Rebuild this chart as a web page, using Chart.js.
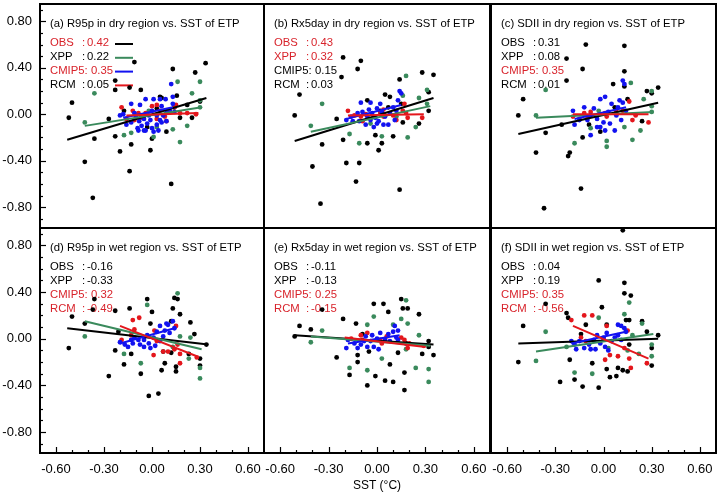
<!DOCTYPE html>
<html>
<head>
<meta charset="utf-8">
<script src="https://cdn.jsdelivr.net/npm/chart.js@4.4.0/dist/chart.umd.min.js"></script>
<style>
  body { margin: 0; background: #fff; }
  #wrap { position: relative; width: 720px; height: 495px; }
  #wrap canvas { position: absolute; left: 0; top: 0; }
</style>
</head>
<body>
<div id="wrap">
  <canvas id="pa"></canvas><canvas id="pb"></canvas><canvas id="pc"></canvas>
  <canvas id="pd"></canvas><canvas id="pe"></canvas><canvas id="pf"></canvas>
</div>
<script>
const seriesNames = ['OBS', 'XPP', 'CMIP5', 'RCM'];
const xTicks = [-0.6, -0.3, 0, 0.3, 0.6];
const yTicks = [-0.8, -0.4, 0, 0.4, 0.8];

const titles = [
  '(a) R95p in dry region vs. SST of ETP',
  '(b) Rx5day in dry region vs. SST of ETP',
  '(c) SDII in dry region vs. SST of ETP',
  '(d) R95p in wet region vs. SST of ETP',
  '(e) Rx5day in wet region vs. SST of ETP',
  '(f) SDII in wet region vs. SST of ETP'
];
// correlation coefficients (OBS, XPP, CMIP5, RCM) and whether each is significant (red)
const corrVals = [
  [0.42, 0.22, 0.35, 0.05],
  [0.43, 0.32, 0.15, 0.03],
  [0.31, 0.08, 0.35, 0.01],
  [-0.16, -0.33, 0.32, -0.49],
  [-0.11, -0.13, 0.25, -0.15],
  [0.04, 0.19, 0.35, -0.56]
];
const corrSig = [
  [1, 0, 1, 0],
  [1, 1, 0, 0],
  [0, 0, 1, 0],
  [0, 0, 1, 1],
  [0, 0, 1, 1],
  [0, 0, 1, 1]
];

// scatter points [sst, index anomaly]
const obsA = [[-0.52,-0.03],[-0.50,0.10],[-0.42,-0.41],[-0.37,-0.72],[-0.36,-0.21],[-0.27,-0.04],[-0.23,0.29],[-0.23,0.21],[-0.23,-0.19],[-0.20,-0.32],[-0.175,0.03],[-0.14,-0.49],[-0.14,0.23],[-0.13,-0.26],[-0.11,0.45],[-0.07,0.21],[-0.01,-0.31],[0.00,-0.21],[0.05,0.15],[0.06,0.14],[0.09,-0.15],[0.12,-0.60],[0.13,0.39],[0.14,0.06],[0.175,-0.03],[0.22,0.08],[0.25,-0.03],[0.27,0.36],[0.30,0.11],[0.335,0.44],[0.03,0.05],[-0.03,-0.11],[0.155,0.16]];
const xppA = [[-0.42,-0.07],[-0.36,0.18],[-0.175,-0.18],[-0.13,-0.16],[-0.02,0.03],[0.01,-0.195],[0.13,-0.13],[0.16,0.28],[0.175,-0.24],[0.22,-0.10],[0.25,0.18],[0.30,0.28],[0.30,0.12],[0.30,0.06],[0.11,0.03],[0.03,-0.11]];
const cmipA = [[0.12,0.26],[-0.13,0.09],[-0.11,0.01],[-0.075,0.08],[-0.04,0.13],[0.01,0.13],[0.05,0.13],[0.085,0.13],[0.13,0.15],[0.13,0.09],[0.14,0.02],[-0.18,0.00],[-0.20,-0.01],[-0.16,-0.09],[-0.13,-0.07],[-0.09,-0.12],[-0.065,-0.10],[-0.05,-0.04],[-0.03,-0.08],[-0.01,-0.05],[0.00,-0.12],[0.03,-0.09],[0.05,-0.05],[0.06,-0.07],[0.07,-0.01],[0.09,0.01],[0.11,0.03],[-0.08,-0.06],[-0.10,-0.02],[-0.04,-0.14],[0.01,-0.15],[-0.02,-0.01],[0.03,-0.01],[0.06,0.07],[0.00,0.03],[0.09,-0.06],[-0.05,-0.14],[-0.085,-0.14],[0.04,-0.14]];
const rcmA = [[-0.19,0.06],[-0.12,0.03],[-0.16,-0.04],[-0.11,-0.05],[-0.07,-0.03],[-0.04,0.01],[0.00,0.07],[0.03,0.08],[0.05,0.03],[0.08,-0.02],[0.09,-0.06],[0.14,0.06],[0.15,0.08],[0.175,0.01],[0.22,0.01],[0.275,0.00],[0.03,-0.04],[-0.085,0.01]];

const obsB = [[-0.21,0.49],[-0.10,0.46],[-0.12,0.39],[-0.22,0.32],[-0.48,0.17],[-0.51,-0.01],[-0.25,-0.04],[-0.34,-0.26],[-0.21,-0.22],[-0.40,-0.45],[-0.19,-0.42],[-0.11,-0.42],[-0.13,-0.58],[-0.35,-0.77],[-0.06,-0.25],[-0.01,-0.18],[0.01,-0.31],[0.03,-0.25],[0.10,-0.19],[0.14,-0.65],[-0.06,0.12],[0.05,0.17],[0.08,0.15],[0.14,0.30],[0.15,0.09],[0.07,0.06],[0.16,-0.07],[0.26,-0.08],[0.28,0.36],[0.35,0.34],[0.32,0.19],[0.32,0.03],[0.02,0.03]];
const xppB = [[-0.41,-0.10],[-0.34,0.09],[-0.17,-0.17],[-0.11,-0.25],[0.03,-0.19],[0.18,0.33],[0.16,0.16],[0.26,0.14],[0.31,0.21],[0.31,0.09],[0.24,-0.11],[0.19,-0.20],[0.12,-0.02],[-0.04,-0.08]];
const cmipB = [[0.14,0.20],[0.15,0.18],[-0.10,0.10],[-0.04,0.10],[0.02,0.09],[-0.12,0.01],[-0.19,-0.05],[-0.16,-0.02],[-0.09,0.02],[-0.06,-0.02],[-0.03,0.01],[-0.01,-0.03],[0.01,-0.06],[-0.02,-0.11],[-0.04,-0.05],[0.05,-0.02],[0.08,0.01],[0.10,0.06],[0.12,0.03],[0.13,0.12],[0.11,-0.05],[0.07,-0.09],[0.04,-0.09],[0.00,-0.08],[-0.07,-0.09],[-0.11,-0.06],[-0.15,-0.06],[0.03,0.02],[0.00,0.05],[-0.05,0.04]];
const rcmB = [[-0.18,0.03],[-0.14,-0.01],[-0.10,-0.02],[-0.09,-0.06],[-0.07,0.00],[0.02,0.01],[0.04,-0.02],[0.04,0.04],[0.10,-0.01],[0.12,-0.05],[0.17,0.09],[0.18,0.01],[0.19,-0.03],[0.28,-0.03],[0.16,0.03]];

const obsC = [[-0.11,0.60],[0.13,0.59],[-0.23,0.48],[-0.13,0.39],[0.13,0.37],[-0.23,0.29],[0.13,0.24],[0.06,0.26],[0.27,0.20],[0.34,0.23],[-0.50,0.13],[-0.53,-0.01],[-0.36,-0.16],[-0.42,-0.33],[-0.26,-0.09],[-0.22,-0.36],[-0.21,-0.33],[-0.13,-0.20],[-0.37,-0.81],[-0.14,-0.64],[0.12,-1.00],[0.07,0.06],[0.15,0.13],[0.30,0.18],[0.24,-0.06],[-0.09,-0.09],[-0.02,-0.15]];
const xppC = [[-0.36,0.21],[-0.42,-0.01],[-0.18,-0.25],[0.02,-0.28],[0.02,-0.23],[0.17,0.27],[0.30,0.20],[0.25,0.13],[0.30,0.07],[0.30,0.02],[0.23,-0.14],[0.18,-0.22],[0.13,-0.11],[-0.03,0.03],[-0.08,-0.12]];
const cmipC = [[0.12,0.29],[0.13,0.26],[-0.02,0.13],[0.01,0.15],[0.10,0.12],[0.12,0.10],[-0.19,0.03],[-0.12,0.06],[-0.08,-0.01],[-0.04,-0.04],[-0.02,-0.11],[0.01,-0.14],[0.04,-0.08],[0.07,-0.14],[-0.08,-0.18],[-0.18,-0.09],[-0.15,-0.05],[-0.06,0.05],[0.03,0.02],[0.08,-0.01],[0.14,0.03],[0.11,-0.05],[0.00,-0.07],[-0.04,-0.11],[-0.10,-0.05],[0.09,0.06],[0.05,0.09]];
const rcmC = [[-0.19,-0.02],[-0.15,-0.04],[-0.12,0.01],[-0.08,0.02],[0.01,0.01],[0.02,-0.02],[0.08,0.02],[0.12,0.03],[0.16,0.11],[0.18,-0.05],[0.28,-0.07],[0.20,-0.01],[-0.10,-0.02]];

const obsD = [[-0.52,-0.08],[-0.50,0.19],[-0.42,0.13],[-0.36,0.34],[-0.27,-0.32],[-0.23,0.24],[-0.23,-0.10],[-0.175,-0.22],[-0.14,0.26],[-0.13,-0.13],[-0.07,-0.30],[-0.03,0.34],[0.00,0.23],[-0.01,0.13],[-0.02,-0.49],[0.04,-0.47],[0.06,-0.27],[0.08,-0.21],[0.07,-0.11],[0.12,-0.12],[0.13,0.26],[0.14,0.35],[0.16,0.34],[0.175,0.21],[0.12,0.15],[0.15,-0.24],[0.15,-0.28],[0.23,-0.13],[0.24,0.14],[0.265,0.04],[0.30,-0.17],[0.30,-0.23],[0.34,-0.05],[-0.21,0.06],[-0.37,0.25]];
const xppD = [[-0.42,0.02],[-0.03,0.29],[0.16,0.39],[-0.175,-0.13],[-0.07,-0.21],[0.175,0.02],[0.23,-0.17],[0.30,-0.25],[0.30,-0.34],[0.24,0.01],[0.13,-0.07]];
const cmipD = [[0.09,0.13],[0.10,0.12],[0.13,0.15],[-0.20,-0.03],[-0.17,-0.05],[-0.13,-0.01],[-0.11,0.01],[-0.075,-0.05],[-0.05,-0.01],[-0.03,0.03],[-0.02,-0.04],[0.01,0.01],[0.03,0.06],[0.05,-0.02],[0.07,0.02],[0.08,0.07],[0.11,0.05],[-0.01,-0.08],[0.02,-0.06],[-0.05,-0.07],[-0.085,-0.01],[-0.12,-0.04],[-0.15,-0.07],[0.14,0.09],[0.05,0.11]];
const rcmD = [[-0.19,-0.01],[-0.13,0.03],[-0.12,0.16],[-0.08,0.18],[-0.11,0.08],[0.015,0.07],[0.01,-0.14],[0.07,-0.11],[0.10,-0.11],[0.15,0.11],[0.16,-0.05],[0.175,-0.13],[0.175,-0.21],[0.28,-0.16],[0.14,-0.09],[0.03,-0.02]];

const obsE = [[-0.51,0.02],[-0.48,0.11],[-0.41,0.08],[-0.21,0.17],[-0.13,0.13],[-0.25,-0.16],[-0.17,-0.31],[-0.12,-0.20],[-0.06,-0.40],[-0.01,-0.32],[-0.02,0.30],[0.04,0.30],[0.07,0.23],[0.05,-0.36],[0.10,-0.37],[0.08,-0.22],[0.15,0.34],[0.16,0.26],[0.19,0.26],[0.17,-0.29],[0.17,-0.44],[0.26,0.21],[0.32,-0.02],[0.32,-0.07],[0.35,-0.14],[0.28,-0.13],[0.13,-0.12],[-0.05,-0.11],[-0.09,0.04],[-0.12,-0.14],[0.18,-0.04],[-0.34,0.25]];
const xppE = [[-0.34,0.07],[-0.41,-0.03],[-0.17,-0.25],[-0.06,-0.27],[0.03,-0.17],[-0.02,0.19],[-0.06,0.12],[0.10,0.12],[0.15,0.17],[0.18,0.33],[0.19,0.13],[0.26,0.03],[0.24,-0.25],[0.32,-0.26],[0.32,-0.37],[0.18,-0.09]];
const cmipE = [[0.11,0.11],[0.13,0.07],[-0.18,-0.01],[-0.14,-0.04],[-0.19,-0.08],[-0.10,-0.05],[-0.07,0.02],[-0.04,-0.02],[-0.02,-0.07],[0.00,0.00],[-0.03,0.03],[0.02,0.05],[0.05,-0.01],[0.07,0.04],[0.08,-0.02],[0.10,0.06],[0.12,0.01],[0.13,-0.01],[-0.06,-0.07],[0.01,-0.09],[-0.08,-0.02],[-0.12,-0.08]];
const rcmE = [[-0.16,0.00],[-0.10,0.03],[-0.06,0.05],[-0.09,-0.01],[0.02,-0.01],[0.03,-0.04],[0.06,0.02],[0.15,0.01],[0.17,-0.01],[0.19,-0.08],[0.20,-0.04],[0.29,-0.06]];

const obsF = [[-0.03,0.50],[0.13,0.48],[0.13,0.39],[0.17,0.37],[-0.36,0.30],[-0.23,0.22],[-0.22,0.18],[-0.01,0.27],[0.16,0.16],[0.14,0.16],[-0.50,0.11],[-0.53,-0.20],[-0.21,-0.18],[-0.27,-0.37],[-0.18,-0.35],[-0.13,-0.41],[-0.03,-0.42],[-0.07,-0.21],[0.02,-0.26],[0.04,-0.33],[0.08,-0.32],[0.09,-0.25],[0.12,-0.27],[0.15,-0.28],[0.24,0.15],[0.27,0.06],[0.34,0.03],[0.30,-0.08],[0.30,-0.23],[-0.14,0.04],[-0.11,0.12],[0.16,-0.05],[0.02,0.12]];
const xppF = [[-0.36,0.06],[-0.42,-0.19],[-0.18,-0.29],[-0.07,-0.30],[-0.03,0.18],[0.13,0.21],[0.16,0.31],[0.24,0.13],[0.30,-0.05],[0.30,-0.15],[0.22,-0.13],[0.15,-0.10],[0.18,0.03],[0.03,-0.08],[-0.23,-0.07]];
const cmipF = [[0.09,0.12],[0.11,0.11],[0.14,0.06],[-0.20,-0.02],[-0.18,-0.05],[-0.15,-0.02],[-0.12,-0.08],[-0.09,-0.05],[-0.06,-0.01],[-0.04,0.03],[-0.02,-0.04],[0.00,0.01],[0.02,0.05],[0.03,-0.10],[0.05,-0.02],[0.07,0.01],[0.09,0.03],[-0.08,-0.09],[-0.05,-0.09],[-0.17,-0.09],[0.11,-0.01],[0.01,-0.07],[0.13,0.09]];
const rcmF = [[-0.12,0.20],[-0.07,0.20],[-0.14,0.01],[-0.11,-0.02],[0.00,0.00],[0.02,0.11],[0.01,-0.18],[0.09,-0.15],[0.13,-0.08],[0.16,-0.17],[0.17,-0.25],[0.27,-0.21],[-0.20,0.16],[0.15,0.07],[0.04,-0.14]];

// regression line ends [x0, y0, x1, y1] for OBS, XPP, CMIP5, RCM
const fitA = [[-0.53,-0.22,0.34,0.14],[-0.42,-0.10,0.31,0.06],[-0.18,-0.03,0.13,0.06],[-0.16,-0.01,0.29,0.01]];
const fitB = [[-0.51,-0.23,0.35,0.14],[-0.41,-0.15,0.33,0.07],[-0.19,-0.04,0.15,0.08],[-0.18,-0.01,0.29,0.00]];
const fitC = [[-0.53,-0.17,0.34,0.10],[-0.42,-0.03,0.31,0.02],[-0.18,-0.04,0.14,0.06],[-0.19,0.00,0.28,0.00]];
const fitD = [[-0.53,0.09,0.35,-0.05],[-0.42,0.15,0.31,-0.09],[-0.20,-0.04,0.14,0.09],[-0.20,0.11,0.28,-0.15]];
const fitE = [[-0.51,0.03,0.35,-0.05],[-0.41,0.02,0.33,-0.06],[-0.18,-0.04,0.14,0.03],[-0.20,0.01,0.30,-0.07]];
const fitF = [[-0.53,-0.04,0.34,0.00],[-0.42,-0.11,0.31,0.04],[-0.20,-0.04,0.14,0.06],[-0.19,0.11,0.28,-0.17]];

const colors = ['#000000', '#3a8a5c', '#1212f0', '#e4161c'];
const sigRed = '#d8232b';
const FONT = '"Liberation Sans", Arial, Helvetica, sans-serif';

// panel boxes in page pixels: left, top, right, bottom
const panels = [
  {id: 'pa', box: [40, 4, 264, 228], yAxis: true, xAxis: false, legend: true, pts: [obsA, xppA, cmipA, rcmA], fit: fitA},
  {id: 'pb', box: [264, 4, 490, 228], yAxis: false, xAxis: false, legend: false, pts: [obsB, xppB, cmipB, rcmB], fit: fitB},
  {id: 'pc', box: [491, 4, 716, 228], yAxis: false, xAxis: false, legend: false, pts: [obsC, xppC, cmipC, rcmC], fit: fitC},
  {id: 'pd', box: [40, 228, 264, 453], yAxis: true, xAxis: true, legend: false, pts: [obsD, xppD, cmipD, rcmD], fit: fitD},
  {id: 'pe', box: [264, 228, 490, 453], yAxis: false, xAxis: true, xTitle: true, legend: false, pts: [obsE, xppE, cmipE, rcmE], fit: fitE},
  {id: 'pf', box: [491, 228, 716, 453], yAxis: false, xAxis: true, legend: false, pts: [obsF, xppF, cmipF, rcmF], fit: fitF}
];

const W = 720, H = 495, Y_AXIS_W = 40, X_AXIS_H = 42;

function makeDecor(idx, p) {
  return {
    id: 'decor' + idx,
    beforeDatasetsDraw(chart) {
      const {ctx, chartArea: a} = chart;
      ctx.save();
      ctx.textBaseline = 'middle';
      ctx.textAlign = 'left';
      ctx.fillStyle = '#000';
      ctx.font = '11.3px ' + FONT;
      ctx.fillText(titles[idx], a.left + 10, a.top + 20);
      seriesNames.forEach((name, i) => {
        const y = a.top + 39 + i * 13.8;
        ctx.fillStyle = corrSig[idx][i] ? sigRed : '#000';
        if (name === 'CMIP5') {
          ctx.fillText('CMIP5:', a.left + 10, y);
          ctx.fillText(corrVals[idx][i].toFixed(2), a.left + 51, y);
        } else {
          ctx.fillText(name, a.left + 10, y);
          ctx.fillText(':', a.left + 42, y);
          ctx.fillText(corrVals[idx][i].toFixed(2), a.left + 47, y);
        }
        if (p.legend) {
          ctx.strokeStyle = colors[i];
          ctx.lineWidth = 2;
          ctx.beginPath();
          ctx.moveTo(a.left + 75, y + 1);
          ctx.lineTo(a.left + 93, y + 1);
          ctx.stroke();
        }
      });
      ctx.restore();
    },
    afterDraw(chart) {
      const {ctx, chartArea: a, scales} = chart;
      ctx.save();
      ctx.strokeStyle = '#000';
      ctx.lineWidth = 1.2;
      if (p.yAxis) {
        for (let k = -9; k <= 9; k++) {
          const v = k / 10;
          const major = yTicks.some(t => Math.abs(t - v) < 1e-6);
          const py = Math.round(scales.y.getPixelForValue(v)) + 0.5;
          ctx.beginPath();
          ctx.moveTo(a.left, py);
          ctx.lineTo(a.left + (major ? 6 : 3), py);
          ctx.stroke();
        }
      }
      if (p.xAxis) {
        for (let k = -6; k <= 6; k++) {
          const v = k / 10;
          const major = xTicks.some(t => Math.abs(t - v) < 1e-6);
          const px = Math.round(scales.x.getPixelForValue(v)) + 0.5;
          ctx.beginPath();
          ctx.moveTo(px, a.bottom);
          ctx.lineTo(px, a.bottom - (major ? 6 : 3));
          ctx.stroke();
        }
      }
      ctx.lineWidth = 2;
      ctx.strokeRect(a.left, a.top, a.right - a.left, a.bottom - a.top);
      ctx.restore();
    }
  };
}

panels.forEach((p, idx) => {
  const [L, T, R, B] = p.box;
  const datasets = [];
  p.pts.forEach((arr, i) => {
    datasets.push({
      label: seriesNames[i],
      data: arr.map(d => ({x: d[0], y: d[1]})),
      backgroundColor: colors[i],
      borderColor: colors[i],
      pointRadius: 2.4,
      pointBorderWidth: 0,
      showLine: false,
      clip: false,
      order: [10, 9, 7, 8][i]
    });
  });
  p.fit.forEach((f, i) => {
    datasets.push({
      type: 'line',
      label: seriesNames[i] + ' fit',
      data: [{x: f[0], y: f[1]}, {x: f[2], y: f[3]}],
      borderColor: colors[i],
      borderWidth: 2,
      pointRadius: 0,
      fill: false,
      order: 4 - i
    });
  });

  const canvas = document.getElementById(p.id);
  canvas.width = W; canvas.height = H;
  canvas.style.width = W + 'px'; canvas.style.height = H + 'px';

  new Chart(canvas.getContext('2d'), {
    type: 'scatter',
    data: {datasets},
    options: {
      responsive: false,
      animation: false,
      events: [],
      devicePixelRatio: 1,
      layout: {
        padding: {
          left: p.yAxis ? L - Y_AXIS_W : L,
          top: T,
          right: W - R,
          bottom: p.xAxis ? H - B - X_AXIS_H : H - B
        }
      },
      plugins: {legend: {display: false}, tooltip: {enabled: false}},
      scales: {
        x: {
          type: 'linear', min: -0.7, max: 0.7, display: p.xAxis,
          grid: {display: false, drawTicks: false}, border: {display: false},
          ticks: {padding: 9, color: '#000', maxRotation: 0, autoSkip: false,
                  font: {size: 13, family: FONT}, callback: v => v.toFixed(2)},
          afterBuildTicks: s => { s.ticks = xTicks.map(v => ({value: v})); },
          afterFit: s => {
            if (p.xAxis) s.height = X_AXIS_H;
            s.paddingLeft = 0; s.paddingRight = 0; s.paddingTop = 0; s.paddingBottom = 0;
          },
          title: {display: !!p.xTitle, text: 'SST (°C)', color: '#000',
                  font: {size: 12, family: FONT}, padding: {top: 0, bottom: 2}}
        },
        y: {
          type: 'linear', min: -0.98, max: 0.95, display: p.yAxis,
          grid: {display: false, drawTicks: false}, border: {display: false},
          ticks: {padding: 8, color: '#000', autoSkip: false,
                  font: {size: 13, family: FONT}, callback: v => v.toFixed(2)},
          afterBuildTicks: s => { s.ticks = yTicks.map(v => ({value: v})); },
          afterFit: s => {
            if (p.yAxis) s.width = Y_AXIS_W;
            s.paddingLeft = 0; s.paddingRight = 0; s.paddingTop = 0; s.paddingBottom = 0;
          }
        }
      }
    },
    plugins: [makeDecor(idx, p)]
  });
});
</script>
</body>
</html>
